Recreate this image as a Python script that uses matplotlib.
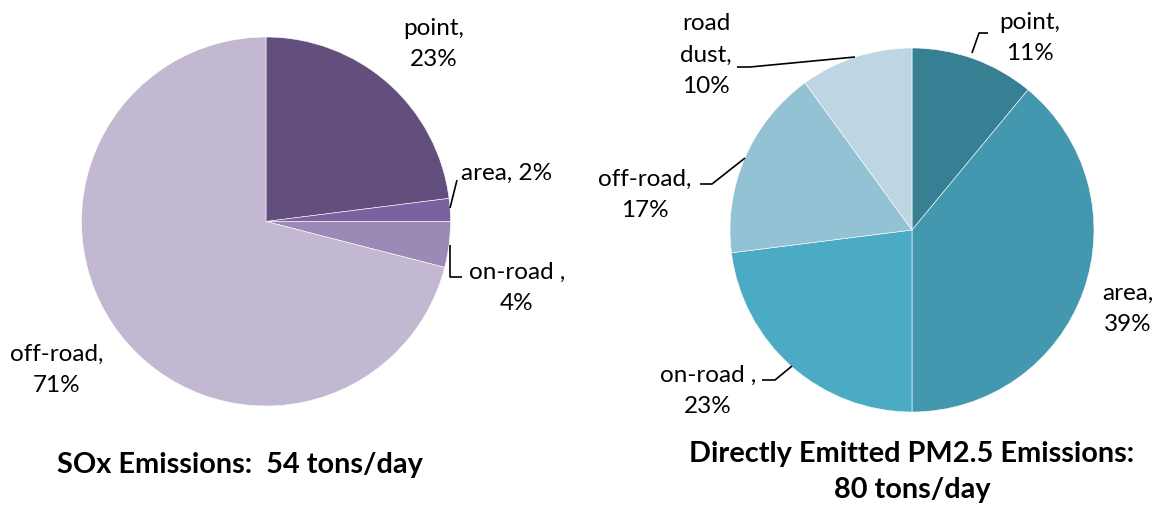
import matplotlib
matplotlib.use("Agg")
import matplotlib.pyplot as plt

plt.rcParams['font.family'] = ['Lato', 'DejaVu Sans']

# Data
sox_labels = ["point", "area", "on-road", "off-road"]
sox_values = [23, 2, 4, 71]
sox_colors = ["#634F7E", "#7C61A0", "#9C8AB6", "#C3B8D1"]
sox_title = "SOx Emissions:  54 tons/day"

pm_labels = ["point", "area", "on-road", "off-road", "road dust"]
pm_values = [11, 39, 23, 17, 10]
pm_colors = ["#377F92", "#4398AF", "#4BABC5", "#93C2D4", "#BCD7E3"]
pm_title = "Directly Emitted PM2.5 Emissions:\n80 tons/day"

W, H = 1157, 508
fig = plt.figure(figsize=(W / 100, H / 100), dpi=100)
ax = fig.add_axes([0, 0, 1, 1])

def Y(y):
    return H - y

ax.pie(sox_values, colors=sox_colors, startangle=90, counterclock=False,
       center=(266, Y(221.5)), radius=184.5, frame=True,
       wedgeprops=dict(edgecolor="white", linewidth=0.4))
ax.pie(pm_values, colors=pm_colors, startangle=90, counterclock=False,
       center=(912, Y(230)), radius=182, frame=True,
       wedgeprops=dict(edgecolor="white", linewidth=0.4))

ax.set_xlim(0, W)
ax.set_ylim(0, H)
ax.set_aspect("equal")
ax.set_axis_off()

fs = 17.5
def label(x, y, s, ha="center"):
    ax.text(x, Y(y), s, ha=ha, va="center", fontsize=fs, color="black", linespacing=1.6)

def leader(pts):
    xs = [p[0] for p in pts]
    ys = [Y(p[1]) for p in pts]
    ax.plot(xs, ys, color="black", lw=1.2, solid_capstyle="butt")

# SOx labels
label(434, 44, f"{sox_labels[0]},\n{sox_values[0]}%")
label(507, 173, f"{sox_labels[1]}, {sox_values[1]}%")
label(517, 288, f"{sox_labels[2]} ,\n{sox_values[2]}%")
label(57, 370, f"{sox_labels[3]},\n{sox_values[3]}%")
leader([(450, 208), (457, 180)])
leader([(450, 245), (450, 277), (462, 277)])

# PM2.5 labels
label(1030, 38, f"{pm_labels[0]},\n{pm_values[0]}%")
label(1128, 309, f"{pm_labels[1]},\n{pm_values[1]}%")
label(708, 391, f"{pm_labels[2]} ,\n{pm_values[2]}%")
label(645, 195, f"{pm_labels[3]},\n{pm_values[3]}%")
label(706, 55, "road\ndust,\n" + f"{pm_values[4]}%")
leader([(972, 53), (979, 33), (988, 33)])
leader([(855, 57), (750, 67), (737, 67)])
leader([(745, 158), (712, 184), (700, 184)])
leader([(792, 366), (775, 380), (762, 380)])

# Titles
ax.text(240, Y(465), sox_title, ha="center", va="center", fontsize=20.8,
        fontweight="bold", color="black")
ax.text(912, Y(472), pm_title, ha="center", va="center", fontsize=20.8,
        fontweight="bold", color="black", linespacing=1.45)

fig.savefig("out.png", dpi=100)
